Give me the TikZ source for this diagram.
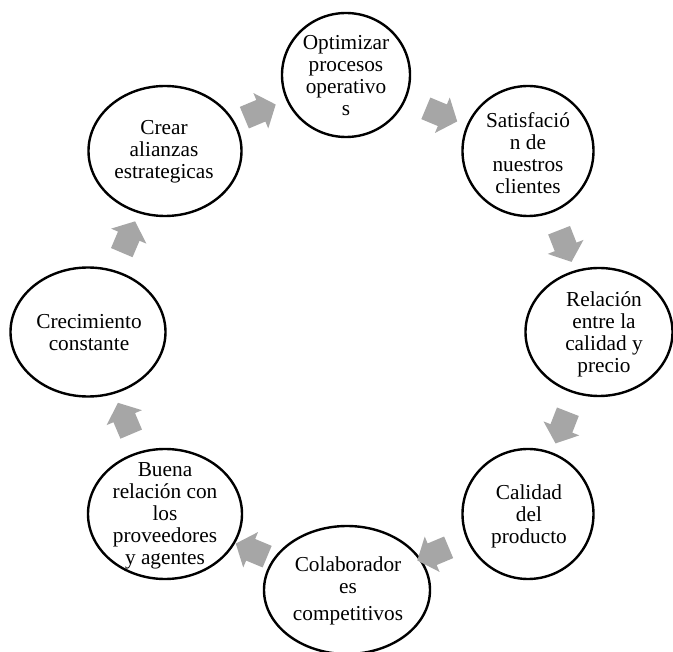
\documentclass[tikz,border=0pt]{standalone}
\usepackage{fontspec}
\setmainfont{Liberation Serif}
\usetikzlibrary{shapes.geometric,shapes.arrows}
\definecolor{arrowgray}{HTML}{A6A6A6}

\begin{document}
\begin{tikzpicture}[x=1pt,y=-1pt,
  ring/.style={draw=black, line width=2.4pt, ellipse, inner sep=0pt},
  lbl/.style={align=center, font=\fontsize{21.3}{22}\selectfont, inner sep=0pt},
  flow/.style={single arrow, fill=arrowgray, draw=none, inner sep=0pt,
    minimum height=34pt, single arrow head extend=7.5pt,
    single arrow tip angle=100, sloped, allow upside down, pos=0.5}]
\useasboundingbox (0,0) rectangle (673,652);
\clip (0,0) rectangle (673,652);

% the eight stages of the cycle
\node[ring, minimum width=128, minimum height=124] (n1) at (346,75) {};
\node[ring, minimum width=131, minimum height=130] (n2) at (528,151) {};
\node[ring, minimum width=147, minimum height=128] (n3) at (599,332) {};
\node[ring, minimum width=131, minimum height=130] (n4) at (528,514) {};
\node[ring, minimum width=166, minimum height=128] (n5) at (347,590) {};
\node[ring, minimum width=154, minimum height=130] (n6) at (165,514) {};
\node[ring, minimum width=155, minimum height=129] (n7) at (88,332) {};
\node[ring, minimum width=153, minimum height=130] (n8) at (165,151) {};

% stage texts
\node[lbl] (t1) at (346,76) {Optimizar\\procesos\\operativo\\s};
\node[lbl] (t2) at (528,153) {Satisfació\\n de\\nuestros\\clientes};
\node[lbl] (t3) at (604,334) {Relación\\entre la\\calidad y\\precio};
\node[lbl] (t4) at (529,516) {Calidad\\del\\producto};
\node[lbl] (t5) at (348,591) {Colaborador\\es\\[5pt]competitivos};
\node[lbl] (t6) at (165,516) {Buena\\relación con\\los\\proveedores\\y agentes};
\node[lbl] (t7) at (89,333) {Crecimiento\\constante};
\node[lbl] (t8) at (164,152) {Crear\\alianzas\\estrategicas};

% clockwise block arrows between neighbouring stages (shaft 23pt wide)
\path (n8.center) -- node[flow] (a81) {\rule{0pt}{23pt}} (n1.center);
\path (n1.center) -- node[flow] (a12) {\rule{0pt}{23pt}} (n2.center);
\path (n2.center) -- node[flow] (a23) {\rule{0pt}{23pt}} (n3.center);
\path (n3.center) -- node[flow] (a34) {\rule{0pt}{23pt}} (n4.center);
\path (n4.center) -- node[flow] (a45) {\rule{0pt}{23pt}} (n5.center);
\path (n5.center) -- node[flow] (a56) {\rule{0pt}{23pt}} (n6.center);
\path (n6.center) -- node[flow] (a67) {\rule{0pt}{23pt}} (n7.center);
\path (n7.center) -- node[flow] (a78) {\rule{0pt}{23pt}} (n8.center);
\end{tikzpicture}
\end{document}
